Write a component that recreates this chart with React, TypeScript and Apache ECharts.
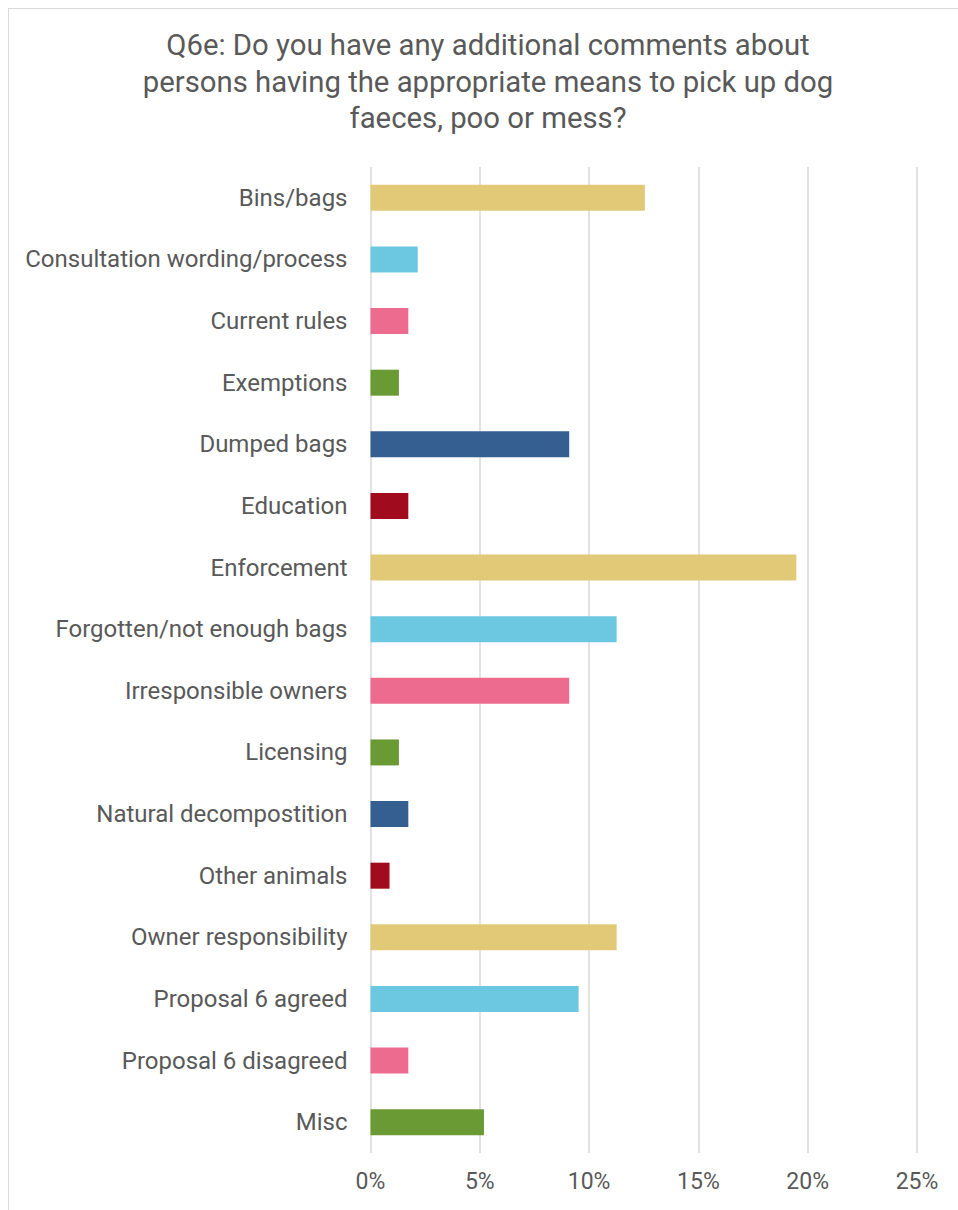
import React, { useEffect, useRef } from "react";
import * as echarts from "echarts";

const titleText =
  "Q6e: Do you have any additional comments about\npersons having the appropriate means to pick up dog\nfaeces, poo or mess?";

const categories = [
  "Bins/bags",
  "Consultation wording/process",
  "Current rules",
  "Exemptions",
  "Dumped bags",
  "Education",
  "Enforcement",
  "Forgotten/not enough bags",
  "Irresponsible owners",
  "Licensing",
  "Natural decompostition",
  "Other animals",
  "Owner responsibility",
  "Proposal 6 agreed",
  "Proposal 6 disagreed",
  "Misc",
];

// share of responses (%)
const values = [
  12.55, 2.16, 1.73, 1.3, 9.09, 1.73, 19.48, 11.26, 9.09, 1.3, 1.73, 0.87,
  11.26, 9.52, 1.73, 5.19,
];

const palette = ["#E2C977", "#6CC8E0", "#ED6B8E", "#6A9A34", "#365F91", "#A10B1E"];

const xTicks = [0, 5, 10, 15, 20, 25];

export default function App() {
  const ref = useRef<HTMLDivElement>(null);
  useEffect(() => {
    if (!ref.current) return;
    const chart = echarts.init(ref.current, undefined, { renderer: "svg" });
    chart.setOption({
      animation: false,
      backgroundColor: "#ffffff",
      title: {
        text: titleText,
        left: 474,
        top: 13,
        textAlign: "center",
        textStyle: {
          fontFamily: "Roboto",
          fontSize: 29.3,
          fontWeight: "normal",
          color: "#595959",
          lineHeight: 36.5,
          align: "center",
        },
      },
      grid: { left: 361.5, right: 41, top: 158, bottom: 57 },
      xAxis: {
        type: "value",
        min: xTicks[0],
        max: xTicks[xTicks.length - 1],
        interval: 5,
        axisLine: { show: false },
        axisTick: { show: false },
        splitLine: { lineStyle: { color: "#D9D9D9", width: 1.5 } },
        axisLabel: {
          formatter: (v: number) => v + "%",
          fontFamily: "Roboto",
          fontSize: 23,
          color: "#595959",
          margin: 17,
        },
      },
      yAxis: {
        type: "category",
        data: categories,
        inverse: true,
        axisLine: { show: false },
        axisTick: { show: false },
        splitLine: { show: false },
        axisLabel: {
          fontFamily: "Roboto",
          fontSize: 24,
          color: "#595959",
          margin: 23,
        },
      },
      series: [
        {
          type: "bar",
          barWidth: 26,
          data: values.map((v, i) => ({
            value: v,
            itemStyle: { color: palette[i % palette.length] },
          })),
        },
      ],
    });
    return () => chart.dispose();
  }, []);
  return (
    <div
      style={{
        position: "absolute",
        left: 8,
        top: 8,
        width: 950,
        height: 1202,
        boxSizing: "border-box",
        borderLeft: "1px solid #D9D9D9",
        borderTop: "1px solid #D9D9D9",
        background: "#fff",
      }}
    >
      <div ref={ref} style={{ width: "100%", height: "100%" }} />
    </div>
  );
}
